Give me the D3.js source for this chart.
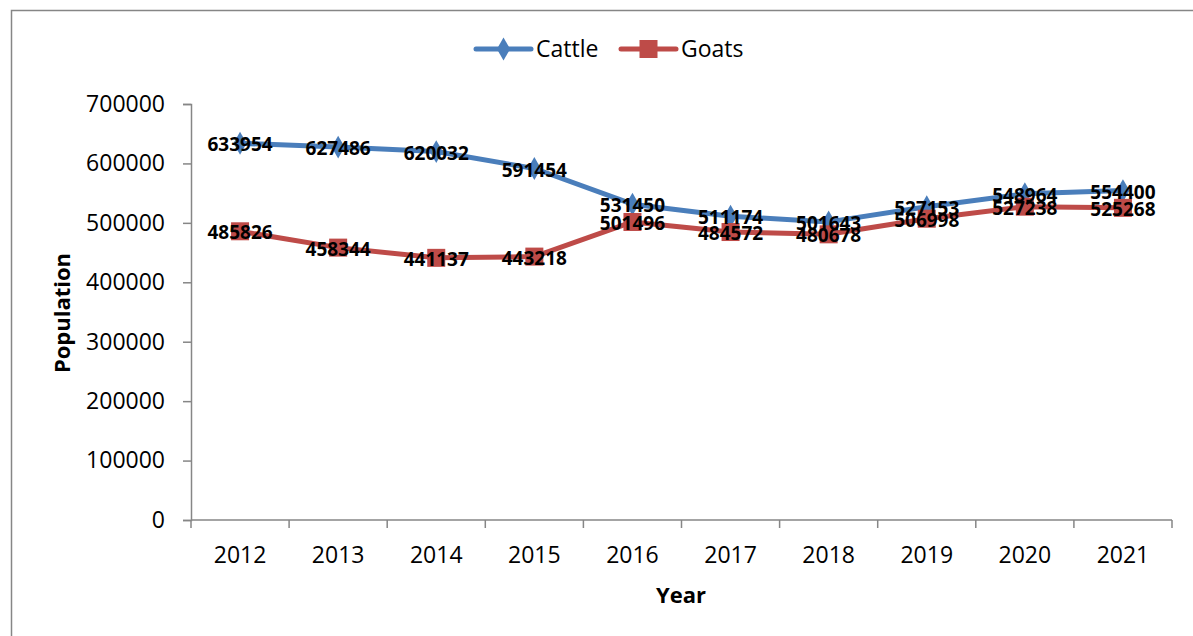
<!DOCTYPE html>
<html>
<head>
<meta charset="utf-8">
<script src="https://cdn.jsdelivr.net/npm/d3@7"></script>
<style>
  html, body { margin: 0; padding: 0; background: #fff; }
  svg { display: block; font-family: "Open Sans", "Liberation Sans", sans-serif; }
</style>
</head>
<body>
<svg id="chart" width="1193" height="636"></svg>
<script>
// Livestock population by year
const years = ["2012", "2013", "2014", "2015", "2016", "2017", "2018", "2019", "2020", "2021"];
const cattle = [633954, 627486, 620032, 591454, 531450, 511174, 501643, 527153, 548964, 554400];
const goats = [485826, 458344, 441137, 443218, 501496, 484572, 480678, 506998, 527238, 525268];
const yTicks = [0, 100000, 200000, 300000, 400000, 500000, 600000, 700000];
const seriesNames = ["Cattle", "Goats"];

(function () {
const svg = d3.select("#chart");
const axisColor = "#868686";
const colors = { Cattle: "#4A7EBB", Goats: "#BE4B48" };

// outer frame
svg.append("rect")
  .attr("x", 11.5).attr("y", 10.5)
  .attr("width", 1190).attr("height", 640)
  .attr("fill", "none").attr("stroke", axisColor).attr("stroke-width", 1.5);

const plotLeft = 191, plotRight = 1172, plotTop = 104, plotBottom = 520;

const x = d3.scaleBand().domain(years).range([plotLeft, plotRight]);
const y = d3.scaleLinear().domain([0, 700000]).range([plotBottom, plotTop]);

// y axis
const yAxis = svg.append("g").attr("transform", `translate(${plotLeft},0)`)
  .call(d3.axisLeft(y).tickValues(yTicks).tickSize(8).tickPadding(18).tickFormat(d3.format("d")));
yAxis.select(".domain").attr("stroke", axisColor).attr("stroke-width", 1.5);
yAxis.selectAll(".tick line").attr("stroke", axisColor).attr("stroke-width", 1.5);
yAxis.selectAll("text").attr("font-size", 23).attr("fill", "#000").attr("font-family", "Open Sans, sans-serif");

// x axis with ticks on band boundaries
const xg = svg.append("g").attr("transform", `translate(0,${plotBottom})`);
xg.append("line").attr("x1", plotLeft).attr("x2", plotRight)
  .attr("stroke", axisColor).attr("stroke-width", 1.5);
const bounds = years.map(d => x(d)).concat([plotRight]);
xg.selectAll(".xt").data(bounds).enter().append("line")
  .attr("x1", d => d).attr("x2", d => d).attr("y1", 0).attr("y2", 8)
  .attr("stroke", axisColor).attr("stroke-width", 1.5);
xg.selectAll(".xl").data(years).enter().append("text")
  .attr("x", d => x(d) + x.bandwidth() / 2).attr("y", 43)
  .attr("text-anchor", "middle").attr("font-size", 23).attr("fill", "#000")
  .text(d => d);

// axis titles
svg.append("text").attr("x", 681).attr("y", 603)
  .attr("text-anchor", "middle").attr("font-size", 22).attr("font-weight", "bold")
  .text("Year");
svg.append("text").attr("transform", "translate(70,313) rotate(-90)")
  .attr("text-anchor", "middle").attr("font-size", 22).attr("font-weight", "bold")
  .text("Population");

const cx = d => x(d) + x.bandwidth() / 2;
const line = d3.line().x(d => cx(d.year)).y(d => y(d.value));

const series = [
  { name: "Cattle", values: cattle },
  { name: "Goats", values: goats }
].map(s => ({ name: s.name, pts: years.map((yr, i) => ({ year: yr, value: s.values[i] })) }));

const diamond = d3.symbol().type(d3.symbolDiamond).size(150);

series.forEach(s => {
  const c = colors[s.name];
  svg.append("path").datum(s.pts)
    .attr("d", line).attr("fill", "none").attr("stroke", c)
    .attr("stroke-width", 5).attr("stroke-linejoin", "round").attr("stroke-linecap", "round");
  const g = svg.append("g");
  if (s.name === "Cattle") {
    g.selectAll("path").data(s.pts).enter().append("path")
      .attr("d", diamond)
      .attr("transform", d => `translate(${cx(d.year)},${y(d.value)})`)
      .attr("fill", c);
  } else {
    g.selectAll("rect").data(s.pts).enter().append("rect")
      .attr("x", d => cx(d.year) - 9).attr("y", d => y(d.value) - 9)
      .attr("width", 18).attr("height", 18).attr("fill", c);
  }
});

// value labels centred on the points
series.forEach(s => {
  svg.append("g").selectAll("text").data(s.pts).enter().append("text")
    .attr("x", d => cx(d.year)).attr("y", d => y(d.value) + 8)
    .attr("text-anchor", "middle").attr("font-size", 19).attr("font-weight", "bold")
    .attr("fill", "#000")
    .text(d => d.value);
});

// legend
const legend = svg.append("g").attr("transform", "translate(0,49)");
const legendItems = [{ name: seriesNames[0], x0: 476 }, { name: seriesNames[1], x0: 621 }];
legendItems.forEach(it => {
  const c = colors[it.name];
  legend.append("line").attr("x1", it.x0).attr("x2", it.x0 + 55)
    .attr("stroke", c).attr("stroke-width", 5).attr("stroke-linecap", "round");
  const mx = it.x0 + 27.5;
  if (it.name === "Cattle") {
    legend.append("path").attr("d", diamond).attr("transform", `translate(${mx},0)`).attr("fill", c);
  } else {
    legend.append("rect").attr("x", mx - 9).attr("y", -9).attr("width", 18).attr("height", 18).attr("fill", c);
  }
  legend.append("text").attr("x", it.x0 + 60).attr("y", 8)
    .attr("font-size", 23).attr("fill", "#000").text(it.name);
});
})();
</script>
</body>
</html>
